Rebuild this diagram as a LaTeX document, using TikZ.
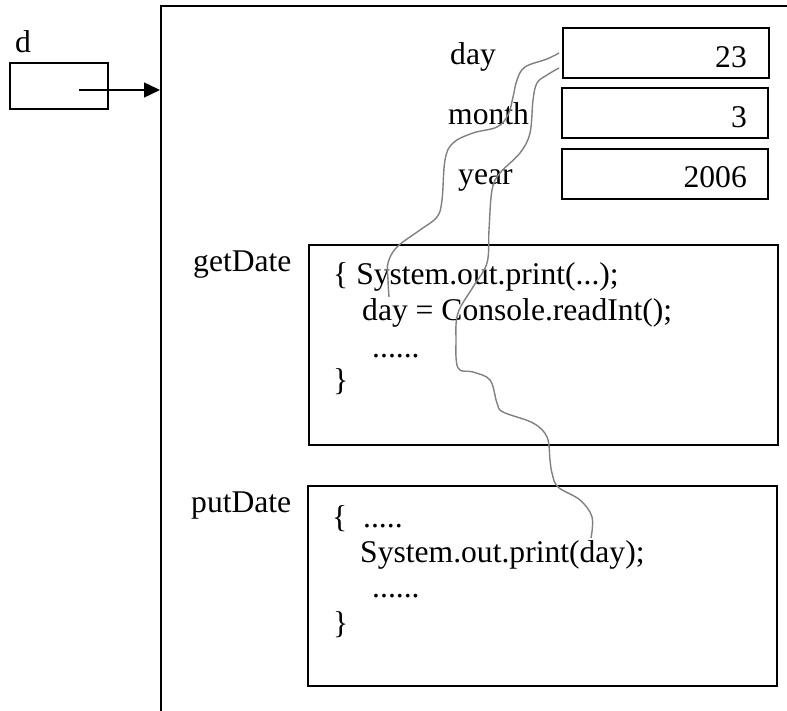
\documentclass[tikz,border=0pt]{standalone}
\usepackage{fontspec}
\setmainfont{Liberation Serif}
\usetikzlibrary{arrows.meta}

\begin{document}
\begin{tikzpicture}[x=1pt,y=-1pt,font=\fontsize{31.6}{38}\selectfont,
  txt/.style={inner sep=0pt,anchor=base west},
  val/.style={inner sep=0pt,anchor=base east},
  field/.style={draw,line width=2pt,inner sep=0pt,minimum width=206pt,minimum height=50pt},
  method/.style={draw,line width=2pt,inner sep=0pt,minimum width=469pt,minimum height=200pt},
  link/.style={draw=gray,line width=1.4pt}]
  \useasboundingbox (0,0) rectangle (787,711);

  % reference variable d
  \node[txt] (dname) at (15,53) {d};
  \node[draw,line width=2pt,inner sep=0pt,minimum width=98pt,minimum height=46pt] (dbox) at (59,86) {};
  \coordinate (dref) at (79,90);

  % object frame, open to the right and bottom
  \draw[line width=2pt] (161,711) -- (161,6) -- (787,6);
  \coordinate (objedge) at (161,90);
  \draw[line width=1.4pt,-{Triangle[length=16pt,width=15pt]},shorten >=1pt] (dref) -- (objedge);

  % fields
  \node[field] (day) at (666,53) {};
  \node[field] (month) at (665,113) {};
  \node[field] (year) at (665,174) {};
  \node[txt] (dayname) at (450,65) {day};
  \node[txt] (monthname) at (448,125) {month};
  \node[txt] (yearname) at (458,185) {year};
  \node[val] (dayval) at (747,68) {23};
  \node[val] (monthval) at (747,128) {3};
  \node[val] (yearval) at (747,188) {2006};

  % getDate
  \node[txt] (getname) at (193,272) {getDate};
  \node[method] (getbox) at (543.5,345) {};
  \node[txt] (get1) at (333,285) {\{ System.out.print(...);};
  \node[txt] (get2) at (362,320) {day = Console.readInt();};
  \node[txt] (get3) at (372,357) {......};
  \node[txt] (get4) at (333,390) {\}};

  % putDate
  \node[txt] (putname) at (191,512) {putDate};
  \node[method] (putbox) at (542,585.5) {};
  \node[txt] (put1) at (332,527) {\{\ \ .....};
  \node[txt] (put2) at (360,562) {System.out.print(day);};
  \node[txt] (put3) at (372,597) {......};
  \node[txt] (put4) at (333,633) {\}};

  % day is read in getDate and printed in putDate
  \coordinate (dayread) at (389,297);
  \coordinate (dayprint) at (591,538);
  \draw[link] plot[smooth,tension=0.6] coordinates {([xshift=-3pt]day.west) (547,59) (525,67) (517,80)
    (513,97) (508,115) (497,127) (473,133) (453,143) (445,160) (442,200) (437,217) (420,230)
    (397,247) (388,263) (388,280) (dayread)};
  \draw[link] plot[smooth,tension=0.6] coordinates {([xshift=-3pt,yshift=-15pt]day.west) (547,75)
    (537,83) (533,100) (530,133) (520,153) (500,173) (492,190) (489,230) (487,263) (473,287)
    (458,313) (456,340) (458,368) (473,372) (490,380) (497,403) (503,412) (533,423) (547,437)
    (550,460) (552,473) (558,487) (580,500) (592,517) (dayprint)};
\end{tikzpicture}
\end{document}
